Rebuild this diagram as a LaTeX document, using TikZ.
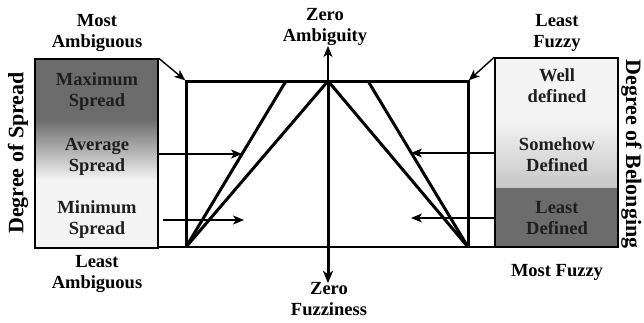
\documentclass[tikz,border=0pt]{standalone}
\usepackage{fontspec}
\setmainfont{Liberation Serif}
\usetikzlibrary{arrows.meta}
\definecolor{boxdark}{HTML}{6C6C6C}
\definecolor{boxlight}{HTML}{F4F4F4}
\definecolor{boxmid}{HTML}{C6C6C6}
\definecolor{intext}{HTML}{1E1E1E}
\begin{document}
\begin{tikzpicture}[x=1pt,y=-1pt,
  lbl/.style={font=\fontsize{18.5}{21}\selectfont\bfseries, align=center, inner sep=0pt},
  inlbl/.style={lbl, text=intext},
  side/.style={font=\fontsize{22}{26}\selectfont\bfseries, inner sep=0pt},
  thickline/.style={line width=3pt, line join=miter},
  thinarrow/.style={line width=1.4pt, -{Stealth[length=11pt,width=9pt,inset=3pt]}},
  box/.style={draw, line width=1.5pt, rectangle, minimum width=123pt, minimum height=189pt, inner sep=0pt}]
\useasboundingbox[fill=white] (0,0) rectangle (644,322);

% left box shading
\fill[boxdark] (35,59) rectangle (158,120);
\shade[top color=boxdark, bottom color=boxlight] (35,120) rectangle (158,180);
\fill[boxlight] (35,180) rectangle (158,248);
% right box shading
\fill[boxlight] (495,58) rectangle (618,120);
\shade[top color=boxlight, bottom color=boxmid] (495,120) rectangle (618,188);
\fill[boxdark] (495,188) rectangle (618,247);

\node[box] (lbox) at (96.5,153.5) {};
\node[box] (rbox) at (556.5,152.5) {};

% main frame coordinates
\coordinate (TL) at (186,81);
\coordinate (TR) at (468,81);
\coordinate (BL) at (186,247);
\coordinate (BR) at (468,247);
\coordinate (apex) at (328,81);
\coordinate (ltop) at (286,81);
\coordinate (rtop) at (368,81);
\coordinate (upend) at (328,46);
\coordinate (downend) at (328,283);
\coordinate (la1) at (242,154);
\coordinate (la2s) at (163,220);
\coordinate (la2) at (244,220);
\coordinate (ra1) at (411,153);
\coordinate (ra2) at (411,218);

\draw[thickline] (BL) -- (TL) -- (TR) -- (BR);
\draw[line width=2.2pt] (lbox.east |- BL) -- (rbox.west |- BR);
\draw[thickline] (BL) -- (apex) -- (BR);
\draw[thickline] (BL) -- (ltop);
\draw[thickline] (BR) -- (rtop);
\draw[thickline, -{Stealth[length=12pt,width=10pt,inset=3pt]}] (apex) -- (downend);
\draw[thinarrow] (apex) -- (upend);

\draw[thinarrow, shorten >=1pt] (lbox.north east) -- (TL);
\draw[thinarrow, shorten >=1pt] (rbox.north west) -- (TR);
\draw[thinarrow] (lbox.east |- la1) -- (la1);
\draw[thinarrow] (la2s) -- (la2);
\draw[thinarrow] (rbox.west |- ra1) -- (ra1);
\draw[thinarrow] (rbox.west |- ra2) -- (ra2);

% texts
\node[lbl] (mostamb) at (97,33) {Most\\Ambiguous};
\node[lbl] (leastamb) at (97,274) {Least\\Ambiguous};
\node[lbl] (leastfz) at (557,33) {Least\\Fuzzy};
\node[lbl] (mostfz) at (557,272) {Most Fuzzy};
\node[lbl] (zamb) at (325,27) {Zero\\Ambiguity};
\node[lbl] (zfz) at (329,299) {Zero\\Fuzziness};

\node[inlbl] (maxs) at (97,92) {Maximum\\Spread};
\node[inlbl] (avgs) at (97,157) {Average\\Spread};
\node[inlbl] (mins) at (97,220) {Minimum\\Spread};
\node[inlbl] (well) at (557,86) {Well\\defined};
\node[inlbl] (some) at (557,155) {Somehow\\Defined};
\node[inlbl] (leastd) at (557,218) {Least\\Defined};

\node[side, rotate=90] (dspread) at (18,153) {Degree of Spread};
\node[side, rotate=-90] (dbelong) at (631.5,154) {Degree of Belonging};
\end{tikzpicture}
\end{document}
